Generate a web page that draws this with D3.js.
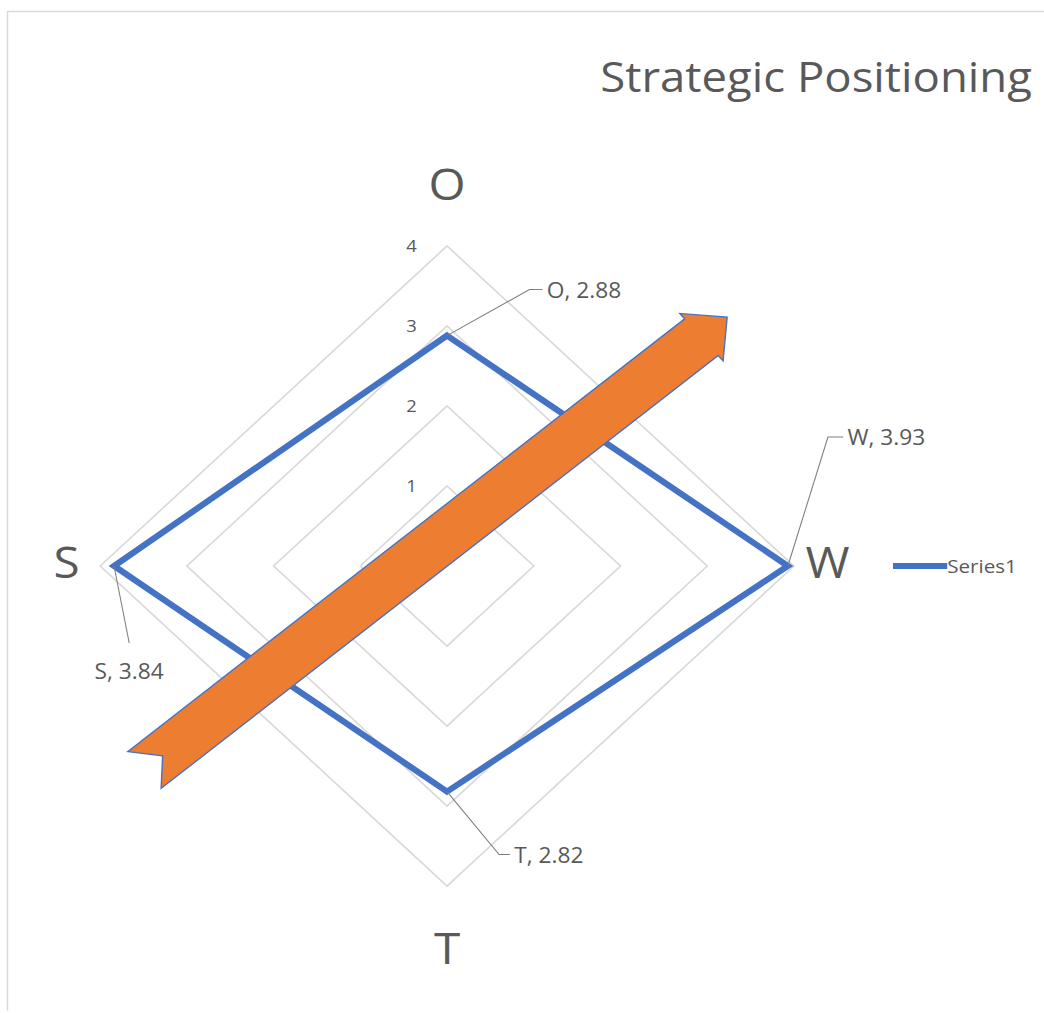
<!DOCTYPE html>
<html>
<head>
<meta charset="utf-8">
<script src="https://cdn.jsdelivr.net/npm/d3@7"></script>
<style>
  body { margin: 0; background: #fff; }
  text { font-family: "Open Sans", sans-serif; fill: #595959; }
</style>
</head>
<body>
<svg id="chart" width="1044" height="1013"></svg>
<script>
// chart data
const categories = ["O", "W", "T", "S"];
const series1 = [2.88, 3.93, 2.82, 3.84];
const ringTicks = [1, 2, 3, 4];
const seriesName = "Series1";
const title = "Strategic Positioning";

// arrow annotation, in value units (x right, y up from centre)
const arrowTail = [-3.49, -2.55];
const arrowTip = [3.23, 3.11];

// where each data label sits relative to its point (px)
const labelLayout = [
  { elbow: [76, -46], tail: 12 },
  { elbow: [37, -129], tail: 14 },
  { elbow: [48, 63], tail: 10 },
  { elbow: [14, 77], tail: 0, below: true }
];

const W = 1044, H = 1013;
const SX = 1.084; // the reference is stretched a bit sideways
const cx = 412.4, cy = 566;

const svg = d3.select("#chart");

// border
svg.append("path")
  .attr("d", `M7.5,${H - 2} V11.5 H${W}`)
  .attr("fill", "none")
  .attr("stroke", "#d9d9d9")
  .attr("stroke-width", 1.5);

const g = svg.append("g").attr("transform", `scale(${SX},1)`);

const r = d3.scaleLinear().domain([0, 4]).range([0, 320]);
const angle = d3.scaleLinear().domain([0, categories.length]).range([0, 2 * Math.PI]);

const pt = (i, v) => [cx + r(v) * Math.sin(angle(i)), cy - r(v) * Math.cos(angle(i))];

const radial = d3.lineRadial()
  .angle((d, i) => angle(i))
  .radius(d => r(d))
  .curve(d3.curveLinearClosed);

// rings
const plot = g.append("g").attr("transform", `translate(${cx},${cy})`);
plot.selectAll("path.ring")
  .data(ringTicks)
  .join("path")
  .attr("class", "ring")
  .attr("d", t => radial(categories.map(() => t)))
  .attr("fill", "none")
  .attr("stroke", "#d9d9d9")
  .attr("stroke-width", 1.6);

// ring tick labels
g.selectAll("text.tick")
  .data(ringTicks)
  .join("text")
  .attr("class", "tick")
  .attr("x", cx - 28)
  .attr("y", t => cy - r(t))
  .attr("dy", "0.35em")
  .attr("text-anchor", "end")
  .style("font-size", "17px")
  .text(t => t);

// category labels
g.selectAll("text.cat")
  .data(categories)
  .join("text")
  .attr("class", "cat")
  .attr("x", (d, i) => {
    const s = Math.sin(angle(i));
    return cx + (r(4) + 31) * s;
  })
  .attr("y", (d, i) => {
    const c = Math.cos(angle(i));
    return cy - (r(4) + 62) * c - (Math.abs(c) < 0.5 ? 4 : 0);
  })
  .attr("dy", "0.36em")
  .attr("text-anchor", "middle")
  .style("font-size", "44px")
  .text(d => d);

// series polygon
plot.append("path")
  .attr("d", radial(series1))
  .attr("fill", "none")
  .attr("stroke", "#4472c4")
  .attr("stroke-width", 6)
  .attr("stroke-linejoin", "miter");

// data labels with leader lines
categories.forEach((c, i) => {
  const [px, py] = pt(i, series1[i]);
  const L = labelLayout[i];
  const ex = px + L.elbow[0], ey = py + L.elbow[1];
  g.append("path")
    .attr("d", `M${px},${py} L${ex},${ey} h${L.tail}`)
    .attr("fill", "none")
    .attr("stroke", "#7f7f7f")
    .attr("stroke-width", 1);
  const t = g.append("text")
    .style("font-size", "21px")
    .text(`${c}, ${series1[i].toFixed(2)}`);
  if (L.below) {
    t.attr("x", ex).attr("y", ey + 29).attr("text-anchor", "middle").attr("dy", "0.35em");
  } else {
    t.attr("x", ex + L.tail + 4).attr("y", ey + 1).attr("dy", "0.35em");
  }
});

// orange arrow
const u = v => [cx + r(v[0]), cy - r(v[1])];
const a0 = u(arrowTail), a1 = u(arrowTip);
const len = Math.hypot(a1[0] - a0[0], a1[1] - a0[1]);
const rot = Math.atan2(a1[1] - a0[1], a1[0] - a0[0]) * 180 / Math.PI;
const hw = 24, bw = 31, hl = 31, notch = 22;
const arrowPts = [
  [0, -hw], [len - hl, -hw], [len - hl, -bw], [len, 0],
  [len - hl, bw], [len - hl, hw], [0, hw], [notch, 0]
];
g.append("path")
  .attr("transform", `translate(${a0[0]},${a0[1]}) rotate(${rot})`)
  .attr("d", d3.line()(arrowPts) + "Z")
  .attr("fill", "#ed7d31")
  .attr("stroke", "#4472c4")
  .attr("stroke-width", 1.3)
  .attr("stroke-linejoin", "miter");

// legend
const lg = g.append("g").attr("transform", `translate(${893 / SX},${566})`);
lg.append("line")
  .attr("x1", 0).attr("x2", 50)
  .attr("stroke", "#4472c4")
  .attr("stroke-width", 6);
lg.append("text")
  .attr("x", 50)
  .attr("dy", "0.35em")
  .style("font-size", "19px")
  .text(seriesName);

// title
g.append("text")
  .attr("x", 952)
  .attr("y", 92)
  .attr("text-anchor", "end")
  .style("font-size", "42px")
  .text(title);
</script>
</body>
</html>
